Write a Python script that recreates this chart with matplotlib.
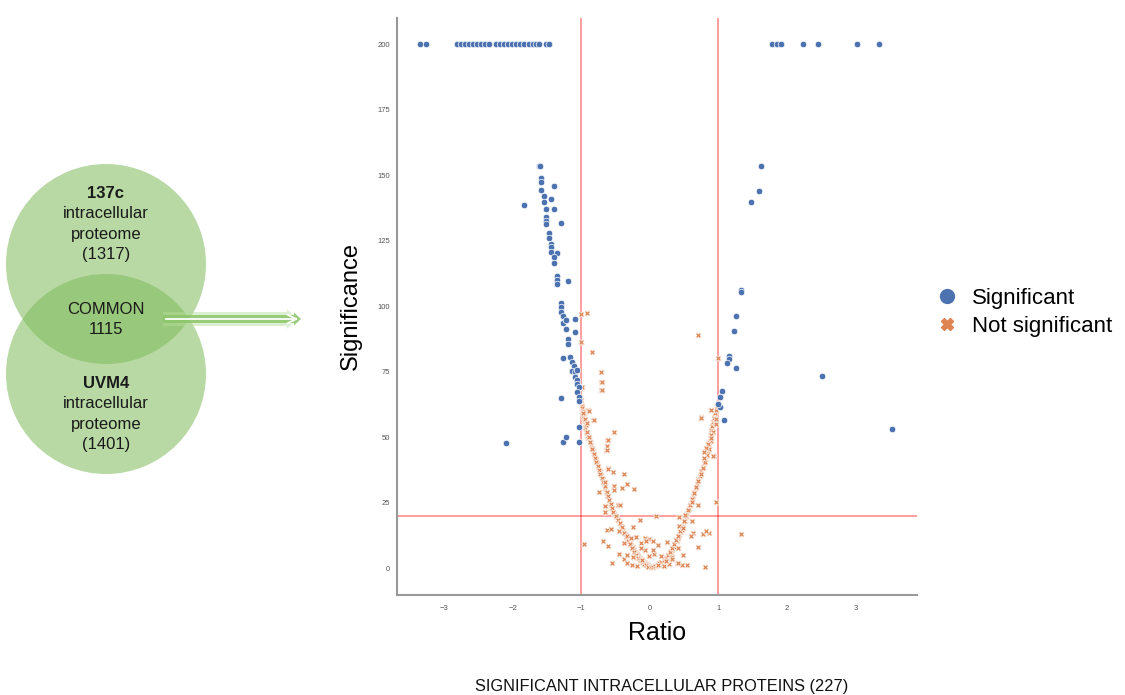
import matplotlib.pyplot as plt
from matplotlib.patches import Circle, FancyArrow
from matplotlib.lines import Line2D

plt.rcParams['font.family'] = ['Liberation Sans', 'DejaVu Sans']

# venn counts
n_137c = 1317
n_uvm4 = 1401
n_common = 1115
n_significant = 227

# significant proteins (blue) - ratio / significance
sig_x = [-3.35, -3.27,
         -2.82, -2.76, -2.70, -2.64, -2.58, -2.52, -2.46, -2.40, -2.34,
         -2.25, -2.19, -2.13, -2.07, -2.01, -1.95, -1.89, -1.83, -1.77, -1.71, -1.66, -1.62,
         -1.52, -1.47,
         1.79, 1.86, 1.91, 2.24, 2.45, 3.03, 3.35,
         -1.62, -1.60, -1.59, -1.59, -1.59, -1.40, -1.55, -1.44, -1.83, -1.55, -1.51, -1.40,
         -1.51, -1.51, -1.51, -1.30, -1.47, -1.47, -1.44, -1.44, -1.44, -1.36, -1.40, -1.40,
         -1.36, -1.36, -1.36, -1.19, -1.30, -1.30, -1.30, -1.26, -1.26, -1.22, -1.22, -1.09, -1.09,
         -1.19, -1.19, -1.26, -1.16, -1.14, -1.11, -1.14, -1.09, -1.06, -1.09, -1.06, -1.06,
         -1.04, -1.06, -1.03, -1.03, -1.30, -1.03, -1.26, -1.22, -1.03, -2.10,
         1.63, 1.59, 1.47, 1.33, 1.33, 1.26, 1.23, 1.16, 1.16, 1.12, 1.26, 2.51,
         1.06, 1.02, 1.02, 0.99, 1.09, 3.53]
sig_y = [200, 200,
         200, 200, 200, 200, 200, 200, 200, 200, 200,
         200, 200, 200, 200, 200, 200, 200, 200, 200, 200, 200, 200,
         200, 200,
         200, 200, 200, 200, 200, 200, 200,
         153.6, 153.6, 148.9, 147.3, 144.3, 145.8, 142.0, 140.8, 138.5, 139.6, 136.9, 136.9,
         134.0, 132.6, 131.3, 131.9, 128.0, 126.0, 123.9, 122.4, 120.7, 120.1, 118.6, 116.5,
         111.5, 109.9, 108.3, 109.7, 101.3, 99.7, 97.8, 96.2, 93.4, 94.7, 91.1, 94.9, 90.3,
         87.5, 85.5, 80.3, 80.4, 78.5, 77.2, 75.2, 74.7, 75.6, 72.8, 71.8, 70.2,
         69.0, 67.3, 65.4, 63.9, 64.9, 53.7, 48.0, 49.9, 48.2, 47.8,
         153.6, 143.8, 139.7, 106.1, 105.2, 96.4, 90.5, 80.9, 79.8, 78.4, 76.2, 73.3,
         67.6, 65.2, 61.3, 62.6, 56.4, 52.9]

# not significant proteins (orange) - dense V plus scattered ones
ns_x = [-1.00, -0.99, -0.985, -0.98, -0.97, -0.96, -0.95, -0.94, -0.93, -0.91, -0.90, -0.88,
        -0.86, -0.85, -0.83, -0.81, -0.79, -0.77, -0.75, -0.73, -0.71, -0.69, -0.67, -0.66,
        -0.64, -0.62, -0.60, -0.58, -0.56, -0.54, -0.52, -0.49, -0.47, -0.44, -0.42, -0.39,
        -0.37, -0.35, -0.33, -0.31, -0.29, -0.27, -0.25, -0.23, -0.21, -0.19, -0.17, -0.15,
        -0.13, -0.11, -0.09, -0.07, -0.05, -0.03, -0.01, 0.01,
        0.03, 0.05, 0.07, 0.09, 0.11, 0.13, 0.15, 0.17, 0.19, 0.21, 0.23, 0.25, 0.27, 0.29,
        0.31, 0.33, 0.35, 0.37, 0.39, 0.41, 0.43, 0.45, 0.47, 0.49, 0.51, 0.53, 0.55, 0.57,
        0.59, 0.61, 0.63, 0.65, 0.67, 0.69, 0.71, 0.73, 0.75, 0.77, 0.79, 0.81, 0.83, 0.85,
        0.86, 0.87, 0.88, 0.89, 0.90, 0.91, 0.92, 0.93, 0.95, 0.96, 0.98, 0.99,
        # second row inside the band
        -0.97, -0.95, -0.93, -0.91, -0.89, -0.87, -0.84, -0.82, -0.80, -0.78, -0.76, -0.74,
        -0.72, -0.70, -0.68, -0.66, -0.63, -0.61, -0.59, -0.57, -0.55, -0.53, -0.50, -0.47,
        -0.44, -0.41, -0.38, -0.35, -0.32, -0.29, -0.26, -0.23, -0.20, -0.17, -0.14, -0.11,
        -0.08, -0.05, -0.02,
        0.02, 0.05, 0.08, 0.11, 0.14, 0.17, 0.20, 0.23, 0.26, 0.29, 0.32, 0.35, 0.38, 0.41,
        0.44, 0.47, 0.50, 0.53, 0.56, 0.59, 0.62, 0.65, 0.68, 0.71, 0.74, 0.77, 0.80, 0.83,
        0.86, 0.89, 0.92, 0.95,
        # scattered
        -1.00, -0.92, -1.00, -0.84, -0.71, -0.71, -0.71, -1.00, -0.90, -0.96, -0.83, -0.92,
        -0.63, -0.64, -0.61, -0.99, -0.70, -0.70, -0.97, -0.89, -0.82, -0.52, -0.61, -0.63,
        -0.63, -0.61, -0.54, -0.37, -0.66, -0.74, -0.52, -0.52, -0.40, -0.34, -0.23, -0.65,
        -0.65, -0.46, -0.43, -0.14, 0.09, 0.43, 0.52, 0.61, -0.62, -0.57, -0.45, -0.33,
        -0.25, -0.96, -0.68, -0.61, -0.37, -0.28, -0.20, -0.07, -0.005, -0.13, -0.05, 0.04,
        0.12, 0.25, 0.41, 0.71, 0.77, 0.86, 0.82, 0.63, 0.60, 0.42, 0.49, 0.70, 0.61, 0.96,
        0.94, 0.74, 0.90, 1.33, 0.81, -0.55, 0.55,
        -0.45, -0.37, -0.33, -0.26, -0.19, -0.12, -0.07, -0.01, 0.06, 0.12, 0.20, 0.28,
        0.33, 0.39, 0.47, -0.33, -0.24, -0.13, 0.04, 0.16, 0.24, 0.32, 0.41, 0.49,
        0.71, 0.99, 0.89, 0.74, 0.96, 0.96, 0.89, 0.89, 0.85, 0.82, 0.79, 0.92, 0.79]
ns_y = [64, 62, 61, 59, 57.5, 56, 55, 53.5, 52, 50.5, 49.5, 48,
        47, 46, 44.5, 43, 41.5, 40, 38.5, 37, 35.5, 34, 32, 30.5,
        29, 27.5, 26, 24.5, 23, 21.5, 20.5, 19.5, 18.5, 17, 16, 14.7,
        13.5, 12.5, 11.5, 10.5, 9.6, 8.8, 8.0, 7.0, 6.0, 5.2, 4.5, 4.0,
        3.5, 2.9, 2.3, 1.8, 1.4, 1.0, 0.7, 0.5,
        0.4, 0.5, 0.6, 0.8, 1.0, 1.3, 1.6, 2.0, 2.4, 2.8, 3.1, 3.5, 4.3, 5.2,
        6.0, 7.0, 7.9, 9.0, 10.2, 11.4, 12.5, 13.6, 14.7, 16.2, 17.8, 19.4, 21.0, 22.6,
        24.2, 25.8, 27.4, 29.0, 30.6, 32.2, 33.8, 35.3, 36.9, 38.4, 40.0, 41.6, 43.2, 44.8,
        46.4, 48.0, 49.6, 51.2, 52.8, 54.3, 55.9, 57.4, 59.0, 60.5, 61.7, 63,
        # second row inside the band
        60, 57, 54.5, 52, 50, 48, 45.5, 43.5, 42, 40.5, 39, 37.5,
        36, 34.5, 33, 31.5, 29, 27.5, 26, 24.5, 23, 21.5, 20, 18.5,
        17, 15.5, 13.5, 12, 10.5, 9, 7.5, 6.2, 5.0, 3.9, 3.0, 2.2,
        1.5, 1.0, 0.5,
        0.3, 0.5, 0.8, 1.2, 1.8, 2.4, 3.2, 4.0, 5.0, 6.2, 7.6, 9.0, 10.6, 12.2,
        14.0, 15.8, 17.8, 19.8, 22.0, 24.2, 26.4, 28.6, 31.0, 33.4, 35.8, 38.2, 40.6, 43.0,
        45.5, 48.5, 52.0, 55.5,
        # scattered
        96.8, 97.2, 86.3, 82.6, 75.0, 71.1, 68.0, 68.7, 60.3, 59.0, 56.5, 55.2,
        48.9, 45.0, 38.2, 69.0, 71.0, 67.8, 59.0, 60.0, 56.6, 51.8, 49.0, 46.4,
        45.2, 37.8, 36.7, 36.0, 33.0, 29.2, 31.2, 29.7, 30.6, 31.9, 30.0, 23.6,
        21.3, 23.9, 23.9, 18.5, 19.8, 19.5, 20.4, 18.0, 14.5, 15.0, 14.1, 12.2,
        15.6, 9.3, 10.3, 8.4, 9.6, 11.5, 11.9, 11.5, 10.9, 9.6, 10.2, 10.5,
        8.6, 9.9, 7.5, 8.1, 12.8, 13.5, 14.1, 13.5, 12.2, 16.0, 15.4, 24.2, 25.3, 25.1,
        42.9, 57.6, 60.4, 12.8, 0.4, 2.0, 1.0,
        5.2, 3.3, 1.8, 1.3, 0.8, 3.1, 6.7, 4.6, 5.5, 1.2, 0.6, 1.6,
        4.3, 1.9, 1.3, 5.1, 4.2, 7.5, 6.9, 4.4, 2.6, 3.4, 2.0, 4.9,
        88.8, 80.3, 60.3, 57.4, 55.0, 57.0, 50.8, 49.6, 47.3, 45.7, 44.4, 42.7, 41.9]

blue = '#4C72B0'
orange = '#DD8452'

fig = plt.figure(figsize=(11.25, 6.95), dpi=100)

# ---- volcano plot ----
ax = fig.add_axes([397 / 1125, 1 - 595 / 695, 520 / 1125, 577 / 695])
ax.scatter(ns_x, ns_y, marker='X', s=18, color=orange, edgecolor='white', linewidth=0.5, zorder=3)
ax.scatter(sig_x, sig_y, marker='o', s=22, color=blue, edgecolor='white', linewidth=0.5, zorder=3)

ax.axvline(-1, color='red', alpha=0.45, lw=1.2, zorder=2)
ax.axvline(1, color='red', alpha=0.45, lw=1.2, zorder=2)
ax.axhline(20, color='red', alpha=0.45, lw=1.2, zorder=2)

ax.set_xlim(-3.69, 3.90)
ax.set_ylim(-10.3, 210)
ax.set_xticks([-3, -2, -1, 0, 1, 2, 3])
ax.set_yticks([0, 25, 50, 75, 100, 125, 150, 175, 200])
ax.tick_params(length=0, labelsize=5.5, labelcolor='#555555')
ax.tick_params(axis='x', pad=7)
ax.tick_params(axis='y', pad=5)
for s in ['top', 'right']:
    ax.spines[s].set_visible(False)
for s in ['left', 'bottom']:
    ax.spines[s].set_color('#999999')
    ax.spines[s].set_linewidth(1.5)

ax.set_xlabel('Ratio', fontsize=18)
ax.set_ylabel('Significance', fontsize=17)
ax.xaxis.set_label_coords(0.5, -0.045)
ax.yaxis.set_label_coords(-0.067, 0.5)

handles = [Line2D([], [], marker='o', ls='', color=blue, markersize=10),
           Line2D([], [], marker='X', ls='', color=orange, markersize=9)]
fig.legend(handles, ['Significant', 'Not significant'], loc='upper left',
           bbox_to_anchor=(914 / 1125, 1 - 268 / 695), frameon=False,
           fontsize=16, handletextpad=0.5, labelspacing=0.3, handlelength=1.2)

fig.text(662 / 1125, 1 - 686 / 695, f'SIGNIFICANT INTRACELLULAR PROTEINS ({n_significant})',
         ha='center', va='center', fontsize=11.8, color='#111111')

# ---- venn diagram (pixel coords overlay) ----
vx = fig.add_axes([0, 0, 1, 1], zorder=-1)
vx.set_xlim(0, 1125)
vx.set_ylim(695, 0)
vx.axis('off')

venn_green = '#7fba5a'
vx.add_patch(Circle((106, 264), 100, color=venn_green, alpha=0.55, lw=0))
vx.add_patch(Circle((106, 374), 100, color=venn_green, alpha=0.55, lw=0))

# arrow from common area to plot
vx.add_patch(FancyArrow(163, 319, 134, 0, width=14, head_width=20, head_length=10,
                        length_includes_head=True, color='#b5dc9c', alpha=0.45, lw=0))
vx.add_patch(FancyArrow(163, 319, 138, 0, width=8, head_width=13, head_length=7,
                        length_includes_head=True, color='#8cc66a', alpha=0.85, lw=0))
vx.annotate('', xy=(301, 319), xytext=(163, 319),
            arrowprops=dict(arrowstyle='->', color='white', lw=1.3, mutation_scale=16))

tcol = '#1a1a1a'
vx.text(106, 193, '137c', ha='center', va='center', fontsize=12, fontweight='bold', color=tcol)
vx.text(106, 214, 'intracellular', ha='center', va='center', fontsize=12, color=tcol)
vx.text(106, 234, 'proteome', ha='center', va='center', fontsize=12, color=tcol)
vx.text(106, 255, f'({n_137c})', ha='center', va='center', fontsize=12, color=tcol)
vx.text(106, 309, 'COMMON', ha='center', va='center', fontsize=12, color=tcol)
vx.text(106, 329, f'{n_common}', ha='center', va='center', fontsize=12, color=tcol)
vx.text(106, 383, 'UVM4', ha='center', va='center', fontsize=12, fontweight='bold', color=tcol)
vx.text(106, 404, 'intracellular', ha='center', va='center', fontsize=12, color=tcol)
vx.text(106, 424, 'proteome', ha='center', va='center', fontsize=12, color=tcol)
vx.text(106, 445, f'({n_uvm4})', ha='center', va='center', fontsize=12, color=tcol)

fig.savefig('out.png', dpi=100)
